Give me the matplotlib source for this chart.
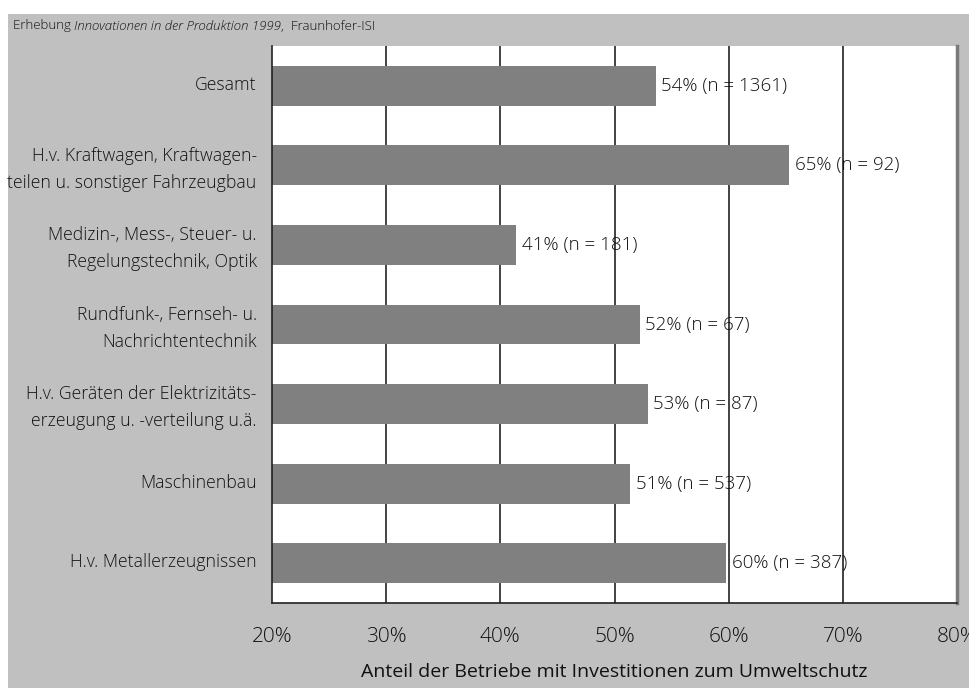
import matplotlib.pyplot as plt
from matplotlib.patches import Rectangle
from matplotlib.transforms import offset_copy

plt.rcParams["font.family"] = ["Open Sans", "DejaVu Sans"]
plt.rcParams["font.weight"] = "light"

categories = [
    "Gesamt",
    "H.v. Kraftwagen, Kraftwagen-\nteilen u. sonstiger Fahrzeugbau",
    "Medizin-, Mess-, Steuer- u.\nRegelungstechnik, Optik",
    "Rundfunk-, Fernseh- u.\nNachrichtentechnik",
    "H.v. Geräten der Elektrizitäts-\nerzeugung u. -verteilung u.ä.",
    "Maschinenbau",
    "H.v. Metallerzeugnissen",
]
shares = [53.6, 65.3, 41.4, 52.2, 52.9, 51.4, 59.8]
share_labels = [54, 65, 41, 52, 53, 51, 60]
counts = [1361, 92, 181, 67, 87, 537, 387]
xticks = [20, 30, 40, 50, 60, 70, 80]

fig = plt.figure(figsize=(9.69, 6.88), dpi=100)
fig.patch.set_facecolor("white")

# grey panel behind everything
bg = fig.add_axes([8 / 969, 0, 1, 1 - 14 / 688], zorder=0)
bg.set_axis_off()
bg.add_patch(Rectangle((0, 0), 1, 1, transform=bg.transAxes, facecolor="#c0c0c0",
                       edgecolor="none"))

ax = fig.add_axes([272 / 969, 1 - 603 / 688, (957 - 272) / 969, (603 - 46) / 688], zorder=2)
ax.set_facecolor("white")

y = list(range(len(categories)))
ax.barh(y, shares, left=0, height=0.5, color="#808080", zorder=2)
ax.set_xlim(20, 80)
ax.set_ylim(len(categories) - 0.5, -0.5)

for yi, v, lab, n in zip(y, shares, share_labels, counts):
    ax.annotate(f"{lab}% (n = {n})", (v, yi), xytext=(4, 0), textcoords="offset points",
                va="center", ha="left", fontsize=13.5, color="#111111", zorder=3)

ax.set_xticks(xticks)
ax.set_xticklabels([f"{t}%" for t in xticks], fontsize=15)
ax.set_yticks(y)
ax.set_yticklabels(categories, fontsize=12.7, linespacing=1.65)
ax.tick_params(axis="both", length=0, colors="#111111")
ax.tick_params(axis="x", pad=17)
ax.tick_params(axis="y", pad=11)
# nudge the category labels up a little
for lbl in ax.get_yticklabels():
    lbl.set_transform(offset_copy(lbl.get_transform(), fig=fig, y=2, units="points"))

for t in xticks[1:-1]:
    ax.axvline(t, color="#222222", linewidth=1.2, zorder=1)

ax.spines["top"].set_visible(False)
ax.spines["left"].set_color("#222222")
ax.spines["bottom"].set_color("#222222")
ax.spines["left"].set_linewidth(1.2)
ax.spines["bottom"].set_linewidth(1.2)
ax.spines["right"].set_color("#7a7a7a")
ax.spines["right"].set_linewidth(2.5)

ax.set_xlabel("Anteil der Betriebe mit Investitionen zum Umweltschutz", fontsize=14,
              labelpad=12, color="#111111")

# source line: regular / italic / regular pieces placed side by side
renderer = fig.canvas.get_renderer()
x_px = 13
for piece, style in [("Erhebung ", "normal"),
                     ("Innovationen in der Produktion 1999", "italic"),
                     (",  Fraunhofer-ISI", "normal")]:
    t = fig.text(x_px / 969, 1 - 26 / 688, piece, fontsize=9.5, style=style,
                 va="center", ha="left", color="#111111", zorder=5)
    x_px += t.get_window_extent(renderer).width

fig.savefig("out.png", dpi=100, facecolor=fig.get_facecolor())
